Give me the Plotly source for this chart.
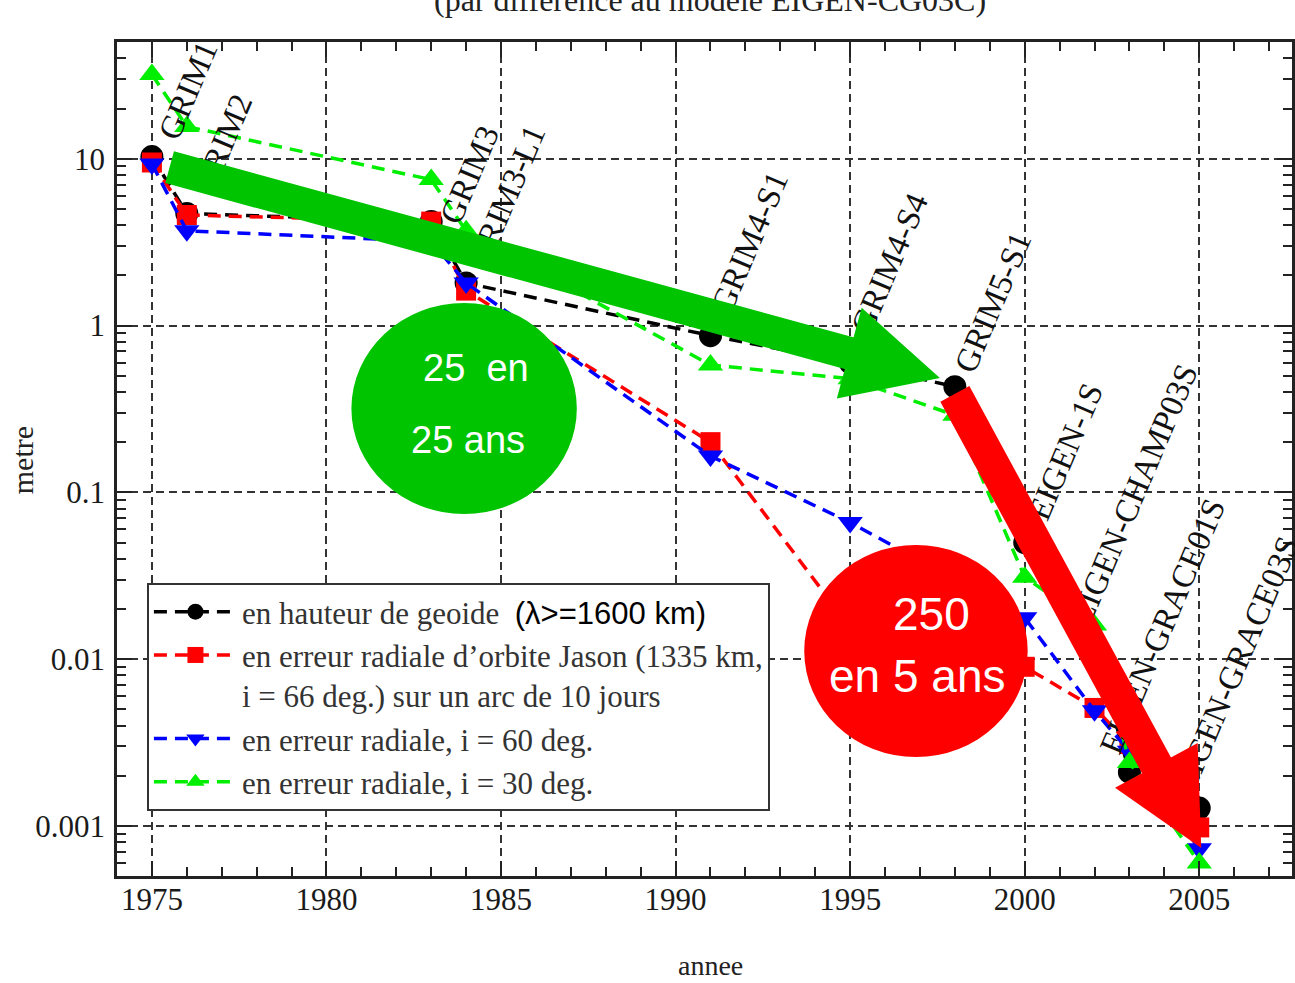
import math
import plotly.graph_objects as go

# ---------------- data ----------------
years = [1975, 1976, 1983, 1984, 1991, 1995, 1998, 2000, 2002, 2003, 2005]
models = ["GRIM1", "GRIM2", "GRIM3", "GRIM3-L1", "GRIM4-S1", "GRIM4-S4",
          "GRIM5-S1", "EIGEN-1S", "EIGEN-CHAMP03S", "EIGEN-GRACE01S", "EIGEN-GRACE03S"]
geoid = [10.3, 4.7, 4.2, 1.8, 0.87, 0.6, 0.43, 0.05, 0.012, 0.0021, 0.00128]
jason = [9.5, 4.6, 4.2, 1.62, 0.2, 0.0155, 0.011, 0.009, 0.0051, 0.0031, 0.00098]
inc60 = [9.3, 3.7, 3.2, 1.8, 0.165, 0.066, 0.03, 0.0177, 0.0049, 0.0028, 0.00073]
inc30 = [32, 15.6, 7.5, 3.7, 0.58, 0.48, 0.29, 0.031, 0.016, 0.0024, 0.0006]

x_ticks = [1975, 1980, 1985, 1990, 1995, 2000, 2005]
y_tickvals = [0.001, 0.01, 0.1, 1, 10]
y_ticktext = ["0.001", "0.01", "0.1", "1", "10"]
y_minor = [m * 10.0 ** e for e in range(-4, 2) for m in range(2, 10)]

names = [
    'en hauteur de geoide&nbsp;&nbsp;<span style="font-family:\'Liberation Sans\', Arial, sans-serif;color:#000">(λ&gt;=1600 km)</span>',
    "en erreur radiale d’orbite Jason (1335 km,<br>i = 66 deg.) sur un arc de 10 jours",
    "en erreur radiale, i = 60 deg.",
    "en erreur radiale, i = 30 deg.",
]
title_text = "(par différence au modèle EIGEN-CG03C)"

# ---------------- layout helpers (pixel geometry of the plot area) ----------------
W, H = 1295, 983
PL, PT, PR, PB = 117, 42, 1295, 876
X0 = 1974.0
X1 = X0 + (PR - PL) / 35.0


def px(x):
    return (x - PL) / (PR - PL)


def py(y):
    return (PB - y) / (PB - PT)


SERIF = "'Liberation Serif', 'Times New Roman', serif"
NARROW = "'Liberation Sans Narrow', 'Arial Narrow', 'Liberation Sans', Arial, sans-serif"

fig = go.Figure()

styles = [
    dict(color="#000000", symbol="circle", size=23),
    dict(color="#FF0000", symbol="square", size=20),
    dict(color="#0000FF", symbol="triangle-down", size=22),
    dict(color="#00EE00", symbol="triangle-up", size=22),
]
for vals, name, st in zip([geoid, jason, inc60, inc30], names, styles):
    fig.add_trace(go.Scatter(
        x=years, y=vals, name=name, mode="lines+markers",
        line=dict(color=st["color"], width=3.5, dash="13px,8px"),
        marker=dict(color=st["color"], symbol=st["symbol"], size=st["size"], line=dict(width=0)),
        cliponaxis=False,
    ))

annotations = []

# model labels (rotated)
label_start = [(168, 137), (203, 190), (450, 222), (478, 265), (722, 310), (862, 332),
               (966, 370), (1040, 518), (1082, 622), (1112, 752), (1186, 790)]
LABEL_SIZE = 33
ANG = 67.0
TW = {'G': .722, 'R': .667, 'I': .333, 'M': .889, '-': .333, 'L': .611, 'S': .556,
      'E': .611, 'N': .722, 'C': .667, 'H': .722, 'A': .722, 'P': .556}
ux, uy = math.cos(math.radians(ANG)), -math.sin(math.radians(ANG))
for name, (sx, sy) in zip(models, label_start):
    L = sum(TW.get(c, .5) for c in name) * LABEL_SIZE
    cx, cy = sx + ux * L / 2, sy + uy * L / 2
    annotations.append(dict(
        x=px(cx), y=py(cy), xref="paper", yref="paper", text=name, showarrow=False,
        textangle=-ANG, xanchor="center", yanchor="middle",
        font=dict(family=SERIF, size=LABEL_SIZE, color="#111")))


def big_arrow(tail, tip, color, shaft=33, head_half=47):
    dx, dy = tip[0] - tail[0], tip[1] - tail[1]
    n = math.hypot(dx, dy)
    ax_, ay_ = dx / n, dy / n
    scale = head_half / 2.5
    head_len = 5 * scale
    base = (tip[0] - head_len * ax_, tip[1] - head_len * ay_)
    send = (base[0] + 8 * ax_, base[1] + 8 * ay_)
    htail = (base[0] - 40 * ax_, base[1] - 40 * ay_)
    out = [
        dict(x=px(send[0]), y=py(send[1]), xref="paper", yref="paper",
             ax=tail[0] - send[0], ay=tail[1] - send[1], text=" ", font=dict(size=1),
             showarrow=True, arrowhead=0, arrowwidth=shaft, arrowcolor=color, borderpad=0),
        dict(x=px(tip[0]), y=py(tip[1]), xref="paper", yref="paper",
             ax=htail[0] - tip[0], ay=htail[1] - tip[1], text=" ", font=dict(size=1),
             showarrow=True, arrowhead=2, arrowwidth=2, arrowsize=scale / 2,
             arrowcolor=color, borderpad=0),
    ]
    return out


annotations += big_arrow((171, 167), (942, 378), "#00C400")
annotations += big_arrow((957, 393), (1204, 848), "#FF0000")

# circle texts
circle_texts = [("25\u00a0\u00a0en", 477, 368, 38), ("25 ans", 469, 440, 38),
                ("250", 934, 614, 46), ("en 5 ans", 919, 676, 46)]
for t, cx, cy, s in circle_texts:
    annotations.append(dict(x=px(cx), y=py(cy), xref="paper", yref="paper", text=t,
                            showarrow=False, xanchor="center", yanchor="middle",
                            font=dict(family=NARROW, size=s, color="white")))

# axis titles and cut-off heading
annotations.append(dict(x=px(22), y=py(460), xref="paper", yref="paper", text="metre",
                        showarrow=False, textangle=-90, xanchor="center", yanchor="middle",
                        font=dict(family=SERIF, size=30, color="#222")))
annotations.append(dict(x=px(712), y=py(965), xref="paper", yref="paper", text="annee",
                        showarrow=False, xanchor="center", yanchor="middle",
                        font=dict(family=SERIF, size=28, color="#222")))
annotations.append(dict(x=px(712), y=py(20), xref="paper", yref="paper", text=title_text,
                        showarrow=False, xanchor="center", yanchor="bottom",
                        font=dict(family=SERIF, size=32, color="#222")))

shapes = [
    dict(type="circle", xref="paper", yref="paper", x0=px(352), x1=px(578),
         y0=py(514), y1=py(303), fillcolor="#00C400", line=dict(width=0), layer="above"),
    dict(type="circle", xref="paper", yref="paper", x0=px(806), x1=px(1030),
         y0=py(757), y1=py(545), fillcolor="#FF0000", line=dict(width=0), layer="above"),
]

axis_common = dict(
    showline=True, linecolor="#222", linewidth=2.5, mirror="ticks",
    ticks="inside", ticklen=15, tickwidth=2, tickcolor="#222",
    showgrid=True, gridcolor="#333", gridwidth=2, griddash="8px,5px",
    zeroline=False, tickfont=dict(family=SERIF, size=31, color="#1a1a1a"),
)

fig.update_layout(
    width=W, height=H, autosize=False,
    margin=dict(l=PL, r=W - PR, t=PT, b=H - PB, pad=0),
    paper_bgcolor="white", plot_bgcolor="white",
    xaxis=dict(range=[X0, X1], tickmode="array", tickvals=x_ticks,
               ticktext=[str(v) for v in x_ticks], ticklabelstandoff=-6,
               minor=dict(tickmode="linear", tick0=1975, dtick=1, ticks="inside",
                          ticklen=9, tickwidth=1.5, tickcolor="#222", showgrid=False),
               **axis_common),
    yaxis=dict(type="log", range=[-3.3, 1.7], tickmode="array", tickvals=y_tickvals,
               ticktext=y_ticktext, ticklabelstandoff=3,
               minor=dict(tickmode="array", tickvals=y_minor, ticks="inside",
                          ticklen=9, tickwidth=1.5, tickcolor="#222", showgrid=False),
               **axis_common),
    legend=dict(x=px(147), y=py(583), xanchor="left", yanchor="top",
                bgcolor="white", bordercolor="#333", borderwidth=2,
                font=dict(family=SERIF, size=31, color="#333"),
                itemwidth=83, valign="top", tracegroupgap=0),
    showlegend=True,
    annotations=annotations,
    shapes=shapes,
)

fig.write_html("out.html", config={"displayModeBar": False})
